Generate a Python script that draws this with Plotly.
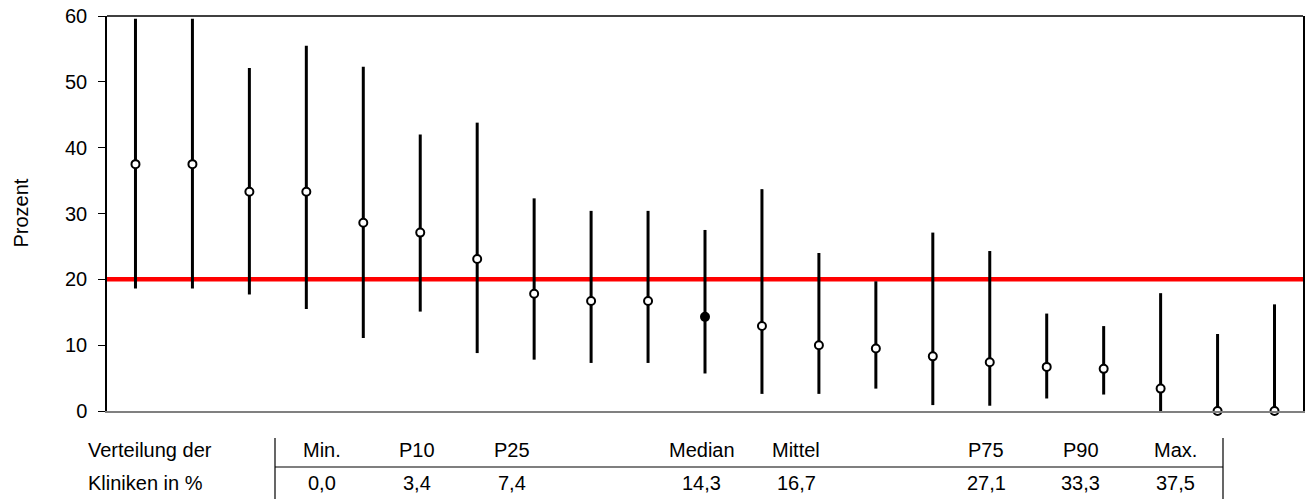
import plotly.graph_objects as go

# ---- data ----
centers = [37.5, 37.5, 33.3, 33.3, 28.6, 27.1, 23.1, 17.8, 16.7, 16.7, 14.3,
           12.9, 10.0, 9.5, 8.3, 7.4, 6.7, 6.4, 3.4, 0.0, 0.0]
upper = [59.6, 59.6, 52.1, 55.5, 52.3, 42.0, 43.8, 32.3, 30.4, 30.4, 27.5,
         33.7, 24.0, 19.7, 27.1, 24.3, 14.8, 12.9, 17.9, 11.7, 16.2]
lower = [18.6, 18.6, 17.7, 15.5, 11.1, 15.1, 8.8, 7.8, 7.3, 7.3, 5.7,
         2.6, 2.6, 3.4, 0.9, 0.8, 1.9, 2.5, 0.0, 0.0, 0.0]
highlight_index = 10
reference_value = 20
y_ticks = [0, 10, 20, 30, 40, 50, 60]
y_title = "Prozent"
row_titles = ["Verteilung der", "Kliniken in %"]
stat_labels = ["Min.", "P10", "P25", "", "Median", "Mittel", "", "P75", "P90", "Max."]
stat_values = ["0,0", "3,4", "7,4", "", "14,3", "16,7", "", "27,1", "33,3", "37,5"]

# ---- layout geometry (page pixels; body margin removed below) ----
W, H = 1308, 499
L, R, T, B = 107, 5, 16, 88
PW, PH = W - L - R, H - T - B
PLOT_X0, PLOT_Y1 = L, H - B
FONT = "Liberation Sans, Arial, sans-serif"
FS = 20


def px_x(p):
    return (p - PLOT_X0) / PW


def px_y(p):
    return (PLOT_Y1 - p) / PH


n = len(centers)
xs = list(range(n))
err_plus = [u - c for u, c in zip(upper, centers)]
err_minus = [c - l for c, l in zip(centers, lower)]
fills = ["black" if i == highlight_index else "white" for i in range(n)]

fig = go.Figure()
fig.add_trace(go.Scatter(
    x=xs, y=centers, mode="markers",
    marker=dict(size=8, color=fills, line=dict(color="black", width=2)),
    error_y=dict(type="data", array=err_plus, arrayminus=err_minus,
                 symmetric=False, width=0, thickness=3, color="black"),
    cliponaxis=False, showlegend=False, hoverinfo="y",
))

shapes = [
    dict(type="line", xref="paper", yref="y", x0=0, x1=1,
         y0=reference_value, y1=reference_value,
         line=dict(color="#ff0000", width=4.5), layer="below"),
    dict(type="line", xref="paper", yref="paper", x0=0, x1=1, y0=1, y1=1,
         line=dict(color="black", width=1.5)),
]

tab_left, tab_right = 275, 1223
shapes += [
    dict(type="line", xref="paper", yref="paper", x0=px_x(tab_left), x1=px_x(tab_right),
         y0=px_y(467), y1=px_y(467), line=dict(color="black", width=1.2)),
    dict(type="line", xref="paper", yref="paper", x0=px_x(tab_left), x1=px_x(tab_left),
         y0=px_y(438), y1=px_y(499), line=dict(color="black", width=1.2)),
    dict(type="line", xref="paper", yref="paper", x0=px_x(tab_right), x1=px_x(tab_right),
         y0=px_y(438), y1=px_y(499), line=dict(color="black", width=1.2)),
]

annotations = [
    dict(text=y_title, xref="paper", yref="paper", x=px_x(20), y=0.5,
         textangle=-90, showarrow=False, xanchor="center", yanchor="middle",
         font=dict(family=FONT, size=FS, color="black")),
]
row_y = [450, 483]
for ry, t in zip(row_y, row_titles):
    annotations.append(dict(text=t, xref="paper", yref="paper", x=px_x(86), y=px_y(ry),
                            showarrow=False, xanchor="left", yanchor="middle",
                            font=dict(family=FONT, size=FS, color="black")))
col_w = (tab_right - tab_left) / len(stat_labels)
for i, (lab, val) in enumerate(zip(stat_labels, stat_values)):
    cx = tab_left + col_w * (i + 0.5)
    for ry, t in zip(row_y, [lab, val]):
        if t:
            annotations.append(dict(text=t, xref="paper", yref="paper", x=px_x(cx), y=px_y(ry),
                                    showarrow=False, xanchor="center", yanchor="middle",
                                    font=dict(family=FONT, size=FS, color="black")))

fig.update_layout(
    width=W, height=H,
    margin=dict(l=L, r=R, t=T, b=B, autoexpand=False),
    paper_bgcolor="white", plot_bgcolor="white",
    font=dict(family=FONT, size=FS, color="black"),
    xaxis=dict(range=[-0.5, n - 0.5], showgrid=False, zeroline=False,
               showticklabels=False, ticks="", showline=True,
               linecolor="#808080", linewidth=2),
    yaxis=dict(range=[0, 60], tickvals=y_ticks, showgrid=False, zeroline=False,
               showline=True, linecolor="black", linewidth=1.5, mirror=True,
               ticks="outside", ticklen=7, tickcolor="black", tickwidth=1,
               ticklabelstandoff=7, ticklabeloverflow="allow",
               tickfont=dict(family=FONT, size=FS, color="black")),
    shapes=shapes,
    annotations=annotations,
    showlegend=False,
)

fig.write_html("out.html",
               config={"displayModeBar": False},
               post_script="document.body.style.margin='0px';document.body.style.overflow='hidden';")
